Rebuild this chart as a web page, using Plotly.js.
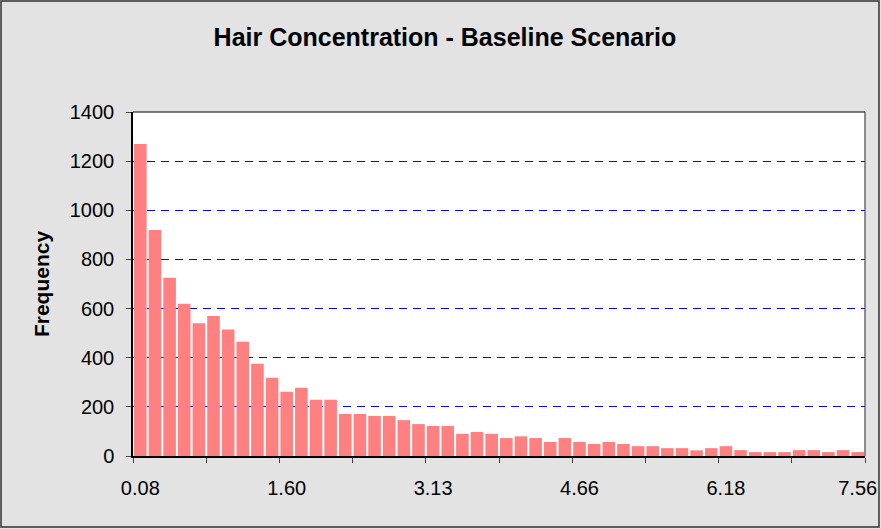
<!DOCTYPE html>
<html>
<head>
<meta charset="utf-8">
<script src="https://cdn.plot.ly/plotly-3.0.1.min.js"></script>
<style>
  html, body { margin: 0; padding: 0; background: #e3e3e3; }
  #plotlyDiv { width: 881px; height: 529px; }
</style>
</head>
<body>
<div id="plotlyDiv"></div>
<script>
// frequency per bin (50 bins)
var frequency = [1270, 920, 725, 620, 540, 570, 515, 465, 375, 318,
                 261, 278, 229, 229, 171, 171, 163, 163, 146, 130,
                 122, 122, 90, 98, 90, 73, 80, 73, 57, 73,
                 57, 49, 57, 49, 40, 40, 32, 32, 23, 32,
                 40, 24, 16, 16, 16, 24, 24, 16, 24, 16];
var binIndex = frequency.map(function (v, i) { return i; });
var labelIndex = [0, 10, 20, 30, 40, 49];
var labelText = ['0.08', '1.60', '3.13', '4.66', '6.18', '7.56'];
var yTicks = [0, 200, 400, 600, 800, 1000, 1200, 1400];

function plotly_hair() {

    var trace1 = {
        type: 'bar',
        x: binIndex,
        y: frequency,
        marker: {color: '#ff8080', line: {width: 0}},
        hoverinfo: 'y'
    };

    // empty trace so the label axis gets drawn
    var trace2 = {
        type: 'scatter',
        x: [labelIndex[0]],
        y: [0],
        xaxis: 'x2',
        mode: 'markers',
        marker: {opacity: 0},
        hoverinfo: 'skip',
        showlegend: false
    };

    var data = [trace1, trace2];

    var layout = {
        width: 881,
        height: 529,
        margin: {l: 133, r: 16, t: 112, b: 73},
        paper_bgcolor: '#e3e3e3',
        plot_bgcolor: '#ffffff',
        font: {family: 'Liberation Sans, Arial, sans-serif', size: 20, color: '#000'},
        showlegend: false,
        bargap: 0.14,
        title: {
            text: '<b>Hair Concentration - Baseline Scenario</b>',
            font: {size: 25},
            x: 0.505,
            xanchor: 'center',
            y: 0.930,
            yanchor: 'middle'
        },
        xaxis: {
            range: [-0.5, 49.5],
            tickmode: 'linear',
            tick0: -0.5,
            dtick: 5,
            ticks: 'outside',
            ticklen: 5,
            tickcolor: '#444',
            showticklabels: false,
            showgrid: false,
            zeroline: false,
            showline: true,
            linecolor: '#000',
            linewidth: 1.5,
            fixedrange: true
        },
        xaxis2: {
            overlaying: 'x',
            side: 'bottom',
            range: [-0.5, 49.5],
            tickmode: 'array',
            tickvals: labelIndex,
            ticktext: labelText,
            ticks: 'outside',
            ticklen: 14,
            tickcolor: 'rgba(0,0,0,0)',
            showgrid: false,
            zeroline: false,
            showline: false,
            fixedrange: true
        },
        yaxis: {
            range: [0, 1400],
            tickmode: 'array',
            tickvals: yTicks,
            ticks: 'outside',
            ticklen: 5,
            tickcolor: '#444',
            ticklabelstandoff: 8,
            showgrid: true,
            gridcolor: '#0000ff',
            gridwidth: 1,
            griddash: '8px,6px',
            zeroline: false,
            showline: true,
            linecolor: '#000',
            linewidth: 1.5,
            fixedrange: true,
            title: {
                text: '<b>Frequency</b>',
                font: {size: 21},
                standoff: 14
            }
        },
        shapes: [
            {type: 'line', xref: 'x domain', yref: 'y domain', x0: 0, x1: 1, y0: 1, y1: 1,
             line: {color: '#000', width: 1}},
            {type: 'line', xref: 'x domain', yref: 'y domain', x0: 1, x1: 1, y0: 0, y1: 1,
             line: {color: '#666', width: 1.5}},
            // outer chart frame near the page edges
            {type: 'rect', xref: 'paper', yref: 'paper', x0: -0.1803, x1: 1.0191, y0: -0.2064, y1: 1.3227,
             line: {color: '#333', width: 1.5}}
        ]
    };

    Plotly.newPlot('plotlyDiv', data, layout, {displayModeBar: false});
}

plotly_hair();
</script>
</body>
</html>
